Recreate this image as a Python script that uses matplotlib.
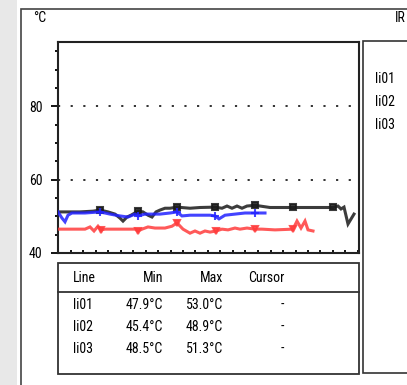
import numpy as np
import matplotlib
matplotlib.use('Agg')
import matplotlib.pyplot as plt
from matplotlib.patches import Rectangle
from matplotlib import font_manager

# pick a narrow sans face if one is installed
fams = [(f.name, str(f.stretch)) for f in font_manager.fontManager.ttflist]
font_name, font_stretch = 'Liberation Sans', 'normal'
for name, st in fams:
    if name in ('Liberation Sans Narrow', 'Roboto Condensed', 'Open Sans Condensed'):
        font_name, font_stretch = name, st
        break
else:
    for name, st in fams:
        if name in ('Liberation Sans', 'DejaVu Sans', 'Open Sans', 'Roboto') and st in ('condensed', '75', '87.5'):
            font_name, font_stretch = name, st
            break
plt.rcParams['font.family'] = [font_name, 'DejaVu Sans']
plt.rcParams['font.stretch'] = font_stretch

# series data (x = sample position, y = temperature in degC)
li01_x = [0, 22, 35, 42, 50, 57, 62, 65, 69, 73, 80, 85, 90, 94, 98, 102, 107, 112, 119, 132,
          142, 157, 164, 169, 174, 179, 184, 189, 197, 212, 235, 257, 275, 280, 283, 286, 290, 296]
li01_y = [51.2, 51.2, 51.4, 51.7, 51.2, 50.6, 49.5, 48.7, 49.8, 50.3, 51.4, 51.2, 50.3, 49.8, 51.2,
          51.7, 52.2, 52.2, 52.5, 52.2, 52.4, 52.5, 52.2, 52.8, 52.2, 52.8, 52.2, 52.8, 53.0, 52.4,
          52.4, 52.4, 52.4, 52.8, 52.0, 52.5, 47.9, 50.6]
li01_marks = [42, 80, 119, 157, 197, 235, 275]

li02_x = [0, 27, 32, 36, 40, 43, 47, 77, 80, 84, 90, 97, 107, 114, 119, 125, 132, 137, 142, 147,
          152, 158, 164, 170, 177, 182, 189, 197, 204, 217, 235, 239, 243, 247, 250, 255]
li02_y = [46.5, 46.5, 47.1, 46.0, 47.3, 46.3, 46.5, 46.5, 46.0, 46.5, 47.1, 46.8, 46.8, 47.3, 48.2,
          46.5, 45.4, 46.0, 45.4, 46.0, 45.7, 46.0, 46.5, 46.3, 46.8, 46.5, 46.8, 46.5, 46.5, 46.3,
          46.5, 48.7, 46.8, 48.7, 46.3, 46.0]
li02_marks = [43, 80, 119, 158, 197, 235]

li03_x = [0, 4, 7, 10, 14, 27, 42, 52, 62, 70, 77, 80, 87, 102, 112, 119, 124, 132, 142, 152,
          157, 161, 167, 177, 187, 197, 207]
li03_y = [51.2, 49.5, 48.5, 50.3, 50.9, 50.9, 51.2, 50.6, 50.1, 49.8, 50.6, 50.1, 50.6, 50.6, 50.9,
          51.2, 50.1, 50.3, 50.3, 50.3, 50.1, 49.3, 50.3, 50.6, 50.9, 50.9, 50.9]
li03_marks = [42, 80, 119, 157, 197]

line_names = ['li01', 'li02', 'li03']
min_vals = ['47.9°C', '45.4°C', '48.5°C']
max_vals = ['53.0°C', '48.9°C', '51.3°C']
cursor_vals = ['-', '-', '-']
headers = ['Line', 'Min', 'Max', 'Cursor']

fs = 10
fig = plt.figure(figsize=(4.07, 3.85), dpi=100)

# background / frames in pixel coordinates
bg = fig.add_axes([0, 0, 1, 1])
bg.set_xlim(0, 407)
bg.set_ylim(385, 0)
bg.axis('off')
bg.add_patch(Rectangle((0, 0), 17, 385, facecolor='#e8e8e8', edgecolor='none'))
bg.add_patch(Rectangle((21, 9), 420, 400, facecolor='white', edgecolor='#444444', lw=1.2))
bg.add_patch(Rectangle((363, 41), 60, 332, facecolor='white', edgecolor='#333333', lw=1.2))
bg.text(33, 18, '°C', fontsize=fs, va='center', ha='left')
bg.text(406, 18, 'IR', fontsize=fs, va='center', ha='right')
for i, name in enumerate(line_names):
    bg.text(375, 79 + i * 23, name, fontsize=fs, va='center', ha='left')

# table under the chart
bg.add_patch(Rectangle((58, 263), 301, 111, facecolor='white', edgecolor='#333333', lw=1.3))
bg.plot([58, 359], [292, 292], color='#333333', lw=1.3)
bg.text(73, 278, headers[0], fontsize=fs, va='center', ha='left')
bg.text(163, 278, headers[1], fontsize=fs, va='center', ha='right')
bg.text(223, 278, headers[2], fontsize=fs, va='center', ha='right')
bg.text(266, 278, headers[3], fontsize=fs, va='center', ha='center')
for i in range(3):
    yy = 305 + i * 22
    bg.text(73, yy, line_names[i], fontsize=fs, va='center', ha='left')
    bg.text(163, yy, min_vals[i], fontsize=fs, va='center', ha='right')
    bg.text(223, yy, max_vals[i], fontsize=fs, va='center', ha='right')
    bg.text(282, yy, cursor_vals[i], fontsize=fs, va='center', ha='center')

# chart
ax = fig.add_axes([58 / 407, 1 - 253 / 385, 301 / 407, 211 / 385])
ax.set_xlim(0, 301)
ax.set_ylim(40, 97.5)

for g in [40, 60, 80]:
    ax.axhline(g, color='#222222', lw=1.3, dashes=(1.2, 5.8), zorder=1)

def draw(xs, ys, marks, color, marker, ms):
    mask = list(np.isin(xs, marks))
    ax.plot(xs, ys, color=color, lw=2.2, alpha=0.85, marker=marker, ms=ms,
            markevery=mask, mew=1.5, solid_joinstyle='miter', zorder=3)

draw(li01_x, li01_y, li01_marks, '#1a1a1a', 's', 4)
draw(li03_x, li03_y, li03_marks, '#2222ff', '+', 6)
draw(li02_x, li02_y, li02_marks, '#ff3c3c', 'v', 5)

ax.set_yticks([40, 60, 80])
ax.set_yticks(np.arange(40, 97, 5), minor=True)
ax.set_xticks(np.arange(0, 301, 12.5), minor=True)
ax.set_xticks([])
ax.tick_params(axis='y', which='major', direction='out', length=5, width=1.3, pad=6,
               labelsize=fs)
ax.tick_params(axis='y', which='minor', direction='out', length=2.5, width=1.3)
ax.tick_params(axis='x', which='minor', direction='in', length=2, width=1.3)
for s in ax.spines.values():
    s.set_linewidth(1.5)
    s.set_color('#222222')

fig.savefig('out.png', dpi=100)
